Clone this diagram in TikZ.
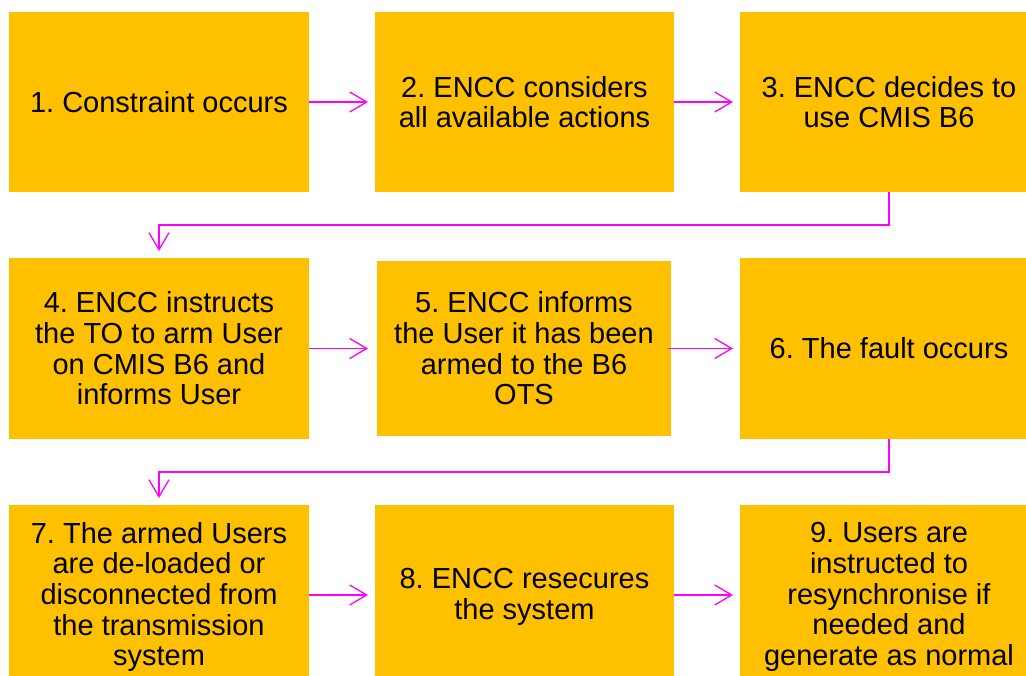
\documentclass[tikz,border=0pt]{standalone}
\usepackage{fontspec}
\setmainfont{Liberation Sans}
\usetikzlibrary{arrows.meta}
\definecolor{boxyellow}{HTML}{FFC000}
\definecolor{conn}{HTML}{FF00FF}
\frenchspacing
\tikzset{
  stepbox/.style={fill=boxyellow, draw=none, inner sep=0pt, outer sep=0pt,
    align=center, font=\fontsize{29}{30.6}\selectfont, text=black},
  arr/.style={draw=conn, line width=1.3pt,
    -{Straight Barb[length=17pt,width=20pt,line width=1.3pt]}}
}
\begin{document}
\begin{tikzpicture}[x=1pt,y=-1pt]
\useasboundingbox (0,0) rectangle (1026,676);
\fill[white] (0,0) rectangle (1026,676);
\clip (0,0) rectangle (1026,676);
% row 1
\node[stepbox, minimum width=300pt, minimum height=180pt] (b1) at (159,102) {1. Constraint occurs};
\node[stepbox, minimum width=299pt, minimum height=180pt] (b2) at (524.5,102) {2. ENCC considers\\all available actions};
\node[stepbox, minimum width=298pt, minimum height=180pt] (b3) at (889,102) {3. ENCC decides to\\use CMIS B6};
% row 2
\node[stepbox, minimum width=300pt, minimum height=181pt] (b4) at (159,348.5) {4. ENCC instructs\\the TO to arm User\\on CMIS B6 and\\informs User};
\node[stepbox, minimum width=294pt, minimum height=175pt] (b5) at (524,348.5) {5. ENCC informs\\the User it has been\\armed to the B6\\OTS};
\node[stepbox, minimum width=298pt, minimum height=181pt] (b6) at (889,348.5) {6. The fault occurs};
% row 3
\node[stepbox, minimum width=300pt, minimum height=184pt] (b7) at (159,597) {7. The armed Users\\are de-loaded or\\disconnected from\\the transmission\\system};
\node[stepbox, minimum width=299pt, minimum height=184pt] (b8) at (524.5,597) {8. ENCC resecures\\the system};
\node[stepbox, minimum width=298pt, minimum height=184pt] (b9) at (889,597) {9. Users are\\instructed to\\resynchronise if\\needed and\\generate as normal};
% connectors
\draw[arr, shorten >=7pt] (b1.east) -- (b2.west);
\draw[arr, shorten >=7pt] (b2.east) -- (b3.west);
\draw[arr, shorten >=7pt] (b3.south) -- ++(0,33) -| (b4.north);
\draw[arr, shorten >=9pt] (b4.east) -- (b5.west);
\draw[arr, shorten <=-3pt, shorten >=7pt] (b5.east) -- (b6.west);
\draw[arr, shorten >=7pt] (b6.south) -- ++(0,33) -| (b7.north);
\draw[arr, shorten >=7pt] ([yshift=2pt]b7.east) -- ([yshift=2pt]b8.west);
\draw[arr, shorten >=7pt] ([yshift=2pt]b8.east) -- ([yshift=2pt]b9.west);
\end{tikzpicture}
\end{document}
